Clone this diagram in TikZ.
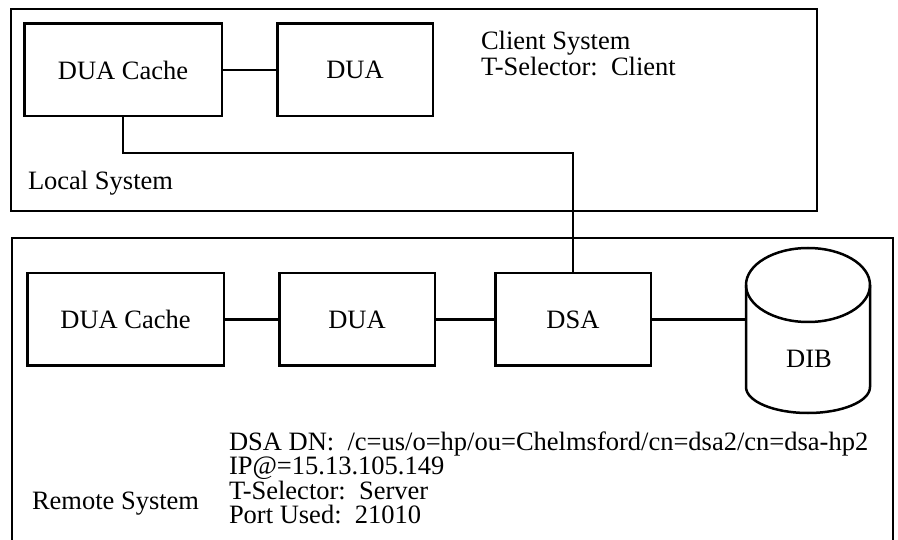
\documentclass[tikz,border=0pt]{standalone}
\usepackage{fontspec}
\setmainfont{Liberation Serif}

\begin{document}
\begin{tikzpicture}[x=1pt,y=-1pt,line width=2.5pt,
  every node/.style={font=\fontsize{26.5}{25}\selectfont, inner sep=0pt, outer sep=0pt},
  box/.style={draw, minimum width=#1-\pgflinewidth, minimum height=95pt-\pgflinewidth}]
\useasboundingbox (0,0) rectangle (898,540);

% local system
\draw (11,9) rectangle (817,211);
\node[box=200pt] (cacheL) at (123,70) {DUA Cache};
\node[box=158pt] (duaL) at (355,70) {DUA};
\node[anchor=base west] (client) at (481,50) {Client System};
\node[anchor=base west] (tselL) at (481,76) {T-Selector:\ \ Client};
\node[anchor=base west] (local) at (28,190) {Local System};

% remote system, open at the bottom
\draw (12,548) -- (12,238) -- (893,238) -- (893,548);
\node[box=199pt] (cacheR) at (125.5,319.5) {DUA Cache};
\node[box=158pt] (duaR) at (357,319.5) {DUA};
\node[box=158pt] (dsa) at (573,319.5) {DSA};

% DIB cylinder
\draw (808,285) ellipse [x radius=62, y radius=37];
\draw (746,285) -- (746,387) arc [start angle=180, end angle=0, x radius=62, y radius=26] -- (870,285);
\coordinate (dibw) at (746,319.5);
\node[anchor=base] (dib) at (809,367) {DIB};

\node[anchor=base west] (dn) at (229,450) {DSA DN:\ \ /c=us/o=hp/ou=Chelmsford/cn=dsa2/cn=dsa-hp2};
\node[anchor=base west] (ip) at (229,474.5) {IP@=15.13.105.149};
\node[anchor=base west] (tselR) at (229,499) {T-Selector:\ \ Server};
\node[anchor=base west] (port) at (229,523.5) {Port Used:\ \ 21010};
\node[anchor=base west] (remote) at (32,509) {Remote System};

% links
\draw (cacheL) -- (duaL);
\draw (cacheL.south) -- ++(0,37) -| (dsa.north);
\draw (cacheR) -- (duaR);
\draw (duaR) -- (dsa);
\draw (dsa) -- (dibw);
\end{tikzpicture}
\end{document}
